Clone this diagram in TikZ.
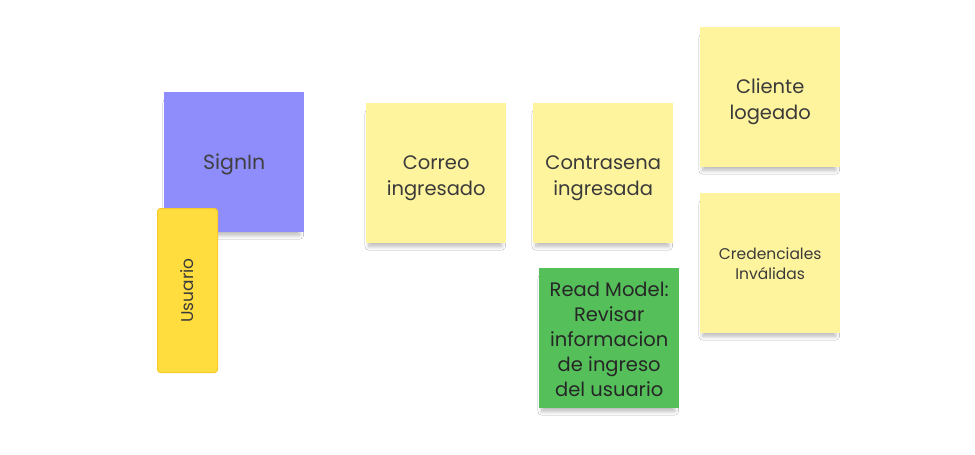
\documentclass[tikz,border=0pt]{standalone}
\usepackage{fontspec}
\setmainfont{Poppins}
\usetikzlibrary{shadows.blur}
\definecolor{sticky}{HTML}{FFF49E}
\definecolor{signin}{HTML}{8F8CFC}
\definecolor{actor}{HTML}{FFDD3F}
\definecolor{actorborder}{HTML}{F7CB2A}
\definecolor{readm}{HTML}{55C05A}
\definecolor{txt}{HTML}{3A3A3A}
\tikzset{
  note/.style={minimum width=140pt, minimum height=140pt, inner sep=0pt, anchor=north west,
    blur shadow={shadow xshift=-1pt, shadow yshift=-7pt, shadow scale=0.95, shadow blur radius=4pt, shadow blur steps=10, shadow opacity=28}},
  notetext/.style={align=center, inner sep=0pt, text=txt, font=\fontsize{19.5}{26}\selectfont},
}
\begin{document}
\begin{tikzpicture}[x=1pt,y=-1pt]
\useasboundingbox[fill=white] (0,0) rectangle (975,455);
\node[note, fill=signin] (signin) at (164,92) {};
\node[notetext, font=\fontsize{20.5}{24}\selectfont, text=black!75, yshift=-2pt] (signintext) at (signin.center) {SignIn};
\node[anchor=north west, minimum width=60pt, minimum height=164pt, inner sep=0pt,
  fill=actor, draw=actorborder, line width=1pt, rounded corners=3pt] (usuario) at (157,208) {};
\node[rotate=90, text=txt, font=\fontsize{17}{20}\selectfont] (usuariolbl) at (usuario.center) {Usuario};
\node[note, fill=sticky] (correo) at (366,103) {};
\node[notetext, yshift=-5pt] (correotext) at (correo.center) {Correo\\ingresado};
\node[note, fill=sticky] (contra) at (533,103) {};
\node[notetext, yshift=-5pt] (contratext) at (contra.center) {Contrasena\\ingresada};
\node[note, fill=sticky] (cliente) at (700,27) {};
\node[notetext, yshift=-5pt] (clientetext) at (cliente.center) {Cliente\\logeado};
\node[note, fill=sticky] (cred) at (700,193) {};
\node[notetext, font=\fontsize{15.5}{20}\selectfont] (credtext) at (cred.center) {Credenciales\\Inválidas};
\node[note, fill=readm] (read) at (539,268) {};
\node[notetext, text=black!85, font=\fontsize{19.5}{25}\selectfont, yshift=-1pt] (readtext) at (read.center) {Read Model:\\Revisar\\informacion\\de ingreso\\del usuario};
\end{tikzpicture}
\end{document}
